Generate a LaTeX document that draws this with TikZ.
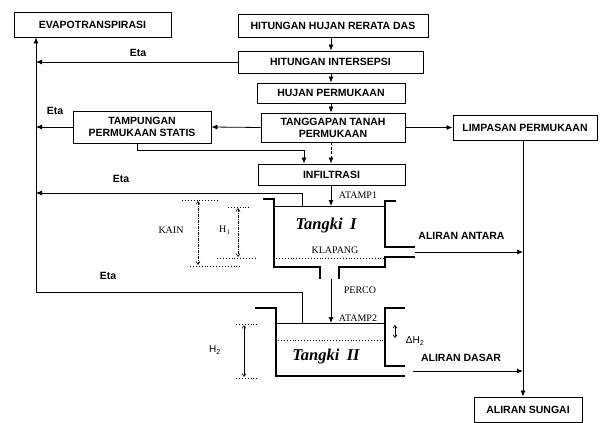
\documentclass[tikz,border=0pt]{standalone}
\usepackage{fontspec}
\setmainfont{Liberation Sans}
\newfontfamily\serifl{Liberation Serif}
\usetikzlibrary{arrows.meta,calc}
\begin{document}
\begin{tikzpicture}[x=1pt,y=-1pt,
  box/.style={draw, line width=0.9pt, inner sep=1pt, align=center,
    font=\bfseries\fontsize{10.5}{12}\selectfont},
  lab/.style={inner sep=0pt, font=\bfseries\fontsize{10.5}{12}\selectfont},
  slab/.style={inner sep=0pt, font=\serifl\fontsize{10}{11}\selectfont},
  tlab/.style={inner sep=0pt, font=\serifl\bfseries\itshape\fontsize{16.5}{18}\selectfont},
  arr/.style={-{Latex[length=6pt,width=5pt]}, line width=0.8pt},
  line/.style={line width=0.8pt},
  wall/.style={line width=2.7pt},
  thin/.style={line width=0.7pt},
  dim/.style={{Straight Barb[length=3pt,width=4pt]}-{Straight Barb[length=3pt,width=4pt]}, line width=0.6pt},
  tick/.style={dotted, line width=0.9pt}]
\useasboundingbox (0,0) rectangle (603,423);

% boxes
\node[box, minimum width=157pt, minimum height=25pt] (evap) at (92.5,24.5) {EVAPOTRANSPIRASI};
\node[box, minimum width=190pt, minimum height=23pt] (hhr) at (333,25.5) {HITUNGAN HUJAN RERATA DAS};
\node[box, minimum width=185pt, minimum height=22pt] (hint) at (330.5,62) {HITUNGAN INTERSEPSI};
\node[box, minimum width=148pt, minimum height=20pt] (hperm) at (331,93) {HUJAN PERMUKAAN};
\node[box, minimum width=144pt, minimum height=29pt] (tang) at (333,127.5) {TANGGAPAN TANAH\\PERMUKAAN};
\node[box, minimum width=138pt, minimum height=32pt] (tamp) at (142,127) {TAMPUNGAN\\PERMUKAAN STATIS};
\node[box, minimum width=144pt, minimum height=25pt] (limp) at (525,127.5) {LIMPASAN PERMUKAAN};
\node[box, minimum width=147pt, minimum height=21pt] (infil) at (331.5,174.5) {INFILTRASI};
\node[box, minimum width=108pt, minimum height=25pt] (sungai) at (528,409.5) {ALIRAN SUNGAI};

% coordinates
\coordinate (L) at (36,292);
\coordinate (R) at (523,0);
\coordinate (tb) at (137,150);
\coordinate (ia) at (304,150);
\coordinate (w1) at (331,206);
\coordinate (w1e) at (302,206);
\coordinate (e3) at (302,193);
\coordinate (w2) at (331,323);
\coordinate (w2e) at (302,323);
\coordinate (o1) at (331,279);
\coordinate (antaraS) at (415,252);
\coordinate (dasarS) at (413,371);

% main chain
\draw[arr] (hhr.south -| hperm.center) -- (hint.north -| hperm.center);
\draw[arr] (hint.south -| hperm.center) -- (hperm.north);
\draw[arr] (hperm.south) -- (tang.north -| hperm.center);
\draw[arr] (tang.west) -- (tamp.east);
\draw[arr] (tang.east) -- (limp.west);
\draw[arr, dashed, dash pattern=on 3pt off 1.5pt] (tang.south -| hperm.center) -- (infil.north -| hperm.center);
\draw[arr] (tamp.south -| tb) -- (tb) -- (ia) -- (infil.north -| ia);
\draw[arr] (infil.south -| hperm.center) -- (w1);

% evapotranspiration lines
\draw[arr] (L) -- (evap.south -| L);
\draw[arr] (hint.west) -- (hint.west -| L);
\draw[arr] (tamp.west) -- (tamp.west -| L);
\draw[arr] (w1e) -- (e3) -- (e3 -| L);
\draw[line] (w2e) -- (w2e |- L) -- (L);

\node[lab] (eta1) at (138,53) {Eta};
\node[lab] (eta2) at (55,111) {Eta};
\node[lab] (eta3) at (121,179) {Eta};
\node[lab] (eta4) at (108,276) {Eta};

% right side flows
\draw[arr] (limp.south -| R) -- (sungai.north -| R);
\draw[arr] (antaraS) -- (antaraS -| R);
\draw[arr] (dasarS) -- (dasarS -| R);
\node[lab] (antara) at (461.5,236) {ALIRAN ANTARA};
\node[lab] (dasar) at (461,358) {ALIRAN DASAR};

% Tank I
\draw[wall] (263,199) -- (274,199) -- (274,267) -- (320,267) -- (320,279);
\draw[wall] (339,279) -- (339,267) -- (385,267) -- (385,257) -- (415,257);
\draw[wall] (396,201) -- (385,201) -- (385,247) -- (415,247);
\draw[thin] (274,206) -- (385,206);
\draw[tick] (276,258) -- (385,258);
\node[tlab] (t1) at (326,226) {Tangki\hspace{0.45em}I};
\node[slab] (klap) at (335,250) {KLAPANG};
\node[slab] (atamp1) at (358,195) {ATAMP1};
\node[slab] (perco) at (360,290) {PERCO};
\draw[arr] (o1) -- (w2);

% Tank II
\draw[wall] (255,308) -- (276,308) -- (276,376) -- (405,376);
\draw[wall] (405,366) -- (385,366) -- (385,308) -- (405,308);
\draw[thin] (276,323) -- (385,323);
\draw[tick] (278,340) -- (384,340);
\node[tlab] (t2) at (326,357) {Tangki\hspace{0.45em}II};
\node[slab] (atamp2) at (358,318) {ATAMP2};
\draw[{Straight Barb[length=2.5pt,width=4pt]}-{Straight Barb[length=2.5pt,width=4pt]}, line width=0.7pt] (395,325) -- (395,338);
\node[lab, font=\fontsize{10}{11}\selectfont] (dh2) at (415,341) {ΔH\textsubscript{2}};

% dimensions tank I
\draw[tick] (182,200) -- (218,200);
\draw[tick] (190,266) -- (240,266);
\draw[dim, dash pattern=on 3pt off 1pt on 1pt off 1pt] (198,201) -- (198,265);
\node[slab] (kain) at (171,230) {KAIN};
\draw[tick] (228,207) -- (250,207);
\draw[tick] (217,258) -- (255,258);
\draw[dim, dash pattern=on 3pt off 1pt on 1pt off 1pt] (238,208) -- (238,257);
\node[slab] (h1) at (225,230) {H$_1$};

% dimensions tank II
\draw[tick] (236,324) -- (258,324);
\draw[tick] (236,378) -- (258,378);
\draw[dim] (244,325) -- (244,377);
\node[lab, font=\fontsize{10}{11}\selectfont] (h2) at (215,350) {H\textsubscript{2}};
\end{tikzpicture}
\end{document}
